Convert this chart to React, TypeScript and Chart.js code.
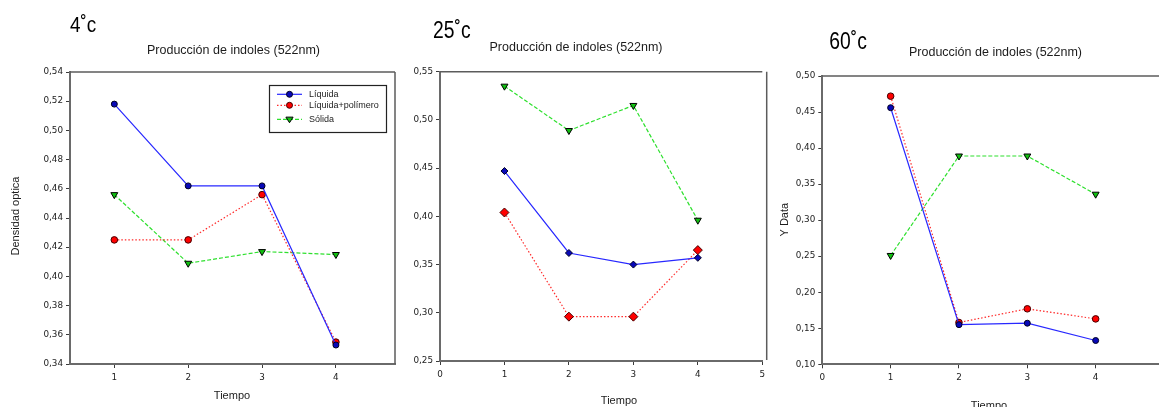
import React, { useEffect, useRef } from 'react';
import { Chart, registerables } from 'chart.js';

Chart.register(...registerables);

// ---- data ----
const tiempo = [1, 2, 3, 4];

const liquida4 = [0.518, 0.462, 0.462, 0.353];
const liquidaPol4 = [0.425, 0.425, 0.456, 0.355];
const solida4 = [0.456, 0.409, 0.417, 0.415];

const liquida25 = [0.447, 0.362, 0.35, 0.357];
const liquidaPol25 = [0.404, 0.296, 0.296, 0.365];
const solida25 = [0.535, 0.489, 0.515, 0.396];

const liquida60 = [0.456, 0.155, 0.157, 0.133];
const liquidaPol60 = [0.472, 0.158, 0.177, 0.163];
const solida60 = [0.251, 0.389, 0.389, 0.336];

const yTicks4 = [0.34, 0.36, 0.38, 0.4, 0.42, 0.44, 0.46, 0.48, 0.5, 0.52, 0.54];
const yTicks25 = [0.25, 0.3, 0.35, 0.4, 0.45, 0.5, 0.55];
const yTicks60 = [0.1, 0.15, 0.2, 0.25, 0.3, 0.35, 0.4, 0.45, 0.5];
const xTicks4 = [1, 2, 3, 4];
const xTicks25 = [0, 1, 2, 3, 4, 5];
const xTicks60 = [0, 1, 2, 3, 4, 5];

const seriesNames = ['Líquida', 'Líquida+polímero', 'Sólida'];
const panelLabels = ['4˚c', '25˚c', '60˚c'];
const chartTitle = 'Producción de indoles (522nm)';
const xTitle = 'Tiempo';
const yTitles = ['Densidad optica', '', 'Y Data'];

// ---- styles ----
const SANS = "'Liberation Sans', Arial, sans-serif";
const BLUE = '#2828ff';
const RED = '#ff2a2a';
const GREEN = '#2ee02e';

type TextItem = {
  text: string;
  x: number;
  y: number;
  size: number;
  align?: CanvasTextAlign;
  rotate?: number;
  scaleX?: number;
  color?: string;
};

function buildDatasets(liq: number[], pol: number[], sol: number[], diamond: boolean) {
  return [
    {
      label: seriesNames[0],
      data: tiempo.map((x, i) => ({ x, y: liq[i] })),
      borderColor: BLUE,
      borderWidth: 1.2,
      pointStyle: diamond ? 'rectRot' : 'circle',
      pointRadius: diamond ? 3.5 : 3,
      pointBackgroundColor: '#0808b8',
      pointBorderColor: '#000022',
      pointBorderWidth: 1,
      tension: 0,
    },
    {
      label: seriesNames[1],
      data: tiempo.map((x, i) => ({ x, y: pol[i] })),
      borderColor: RED,
      borderWidth: 1.2,
      borderDash: [1.5, 2],
      pointStyle: diamond ? 'rectRot' : 'circle',
      pointRadius: diamond ? 4.5 : 3.3,
      pointBackgroundColor: '#ff0000',
      pointBorderColor: '#440000',
      pointBorderWidth: 1,
      tension: 0,
    },
    {
      label: seriesNames[2],
      data: tiempo.map((x, i) => ({ x, y: sol[i] })),
      borderColor: GREEN,
      borderWidth: 1.2,
      borderDash: [4, 2],
      pointStyle: 'triangle',
      pointRotation: 180,
      pointRadius: 4,
      pointBackgroundColor: '#10c010',
      pointBorderColor: '#000000',
      pointBorderWidth: 1,
      tension: 0,
    },
  ];
}

type PanelSpec = {
  left: number;
  width: number;
  area: { l: number; t: number; r: number; b: number };
  xMin: number;
  xMax: number;
  xTicks: number[];
  yTicks: number[];
  frameRightOffset: number;
  datasets: any[];
  texts: TextItem[];
  legend: boolean;
};

const H = 407;

const panels: PanelSpec[] = [
  {
    left: 0,
    width: 400,
    area: { l: 70, t: 72, r: 397, b: 364 },
    xMin: 0.4,
    xMax: 4.8,
    xTicks: xTicks4,
    yTicks: yTicks4,
    frameRightOffset: 0,
    datasets: buildDatasets(liquida4, liquidaPol4, solida4, false),
    legend: true,
    texts: [
      { text: panelLabels[0], x: 70, y: 31.7, size: 22.5, scaleX: 0.84, color: '#000000' },
      { text: chartTitle, x: 233.5, y: 53.5, size: 12.5, align: 'center' },
      { text: xTitle, x: 232, y: 398.5, size: 11, align: 'center' },
      { text: yTitles[0], x: 19, y: 216, size: 11, align: 'center', rotate: -Math.PI / 2 },
    ],
  },
  {
    left: 400,
    width: 380,
    area: { l: 40, t: 71.7, r: 362.3, b: 361 },
    xMin: 0,
    xMax: 5,
    xTicks: xTicks25,
    yTicks: yTicks25,
    frameRightOffset: 4.4,
    datasets: buildDatasets(liquida25, liquidaPol25, solida25, true),
    legend: false,
    texts: [
      { text: panelLabels[1], x: 33, y: 37.7, size: 23, scaleX: 0.84, color: '#000000' },
      { text: chartTitle, x: 176, y: 51, size: 12.5, align: 'center' },
      { text: xTitle, x: 219, y: 403.5, size: 11, align: 'center' },
    ],
  },
  {
    left: 780,
    width: 400,
    area: { l: 42.3, t: 76, r: 384, b: 364.3 },
    xMin: 0,
    xMax: 5,
    xTicks: xTicks60,
    yTicks: yTicks60,
    frameRightOffset: 0,
    datasets: buildDatasets(liquida60, liquidaPol60, solida60, false),
    legend: false,
    texts: [
      { text: panelLabels[2], x: 49.3, y: 49.3, size: 23, scaleX: 0.84, color: '#000000' },
      { text: chartTitle, x: 215.5, y: 55.5, size: 12.5, align: 'center' },
      { text: xTitle, x: 209, y: 409, size: 11, align: 'center' },
      { text: yTitles[2], x: 8, y: 219.7, size: 11, align: 'center', rotate: -Math.PI / 2 },
    ],
  },
];

function makeTextPlugin(items: TextItem[]) {
  return {
    id: 'panelTexts',
    afterDraw(chart: any) {
      const ctx = chart.ctx as CanvasRenderingContext2D;
      for (const t of items) {
        ctx.save();
        ctx.font = `${t.size}px ${SANS}`;
        ctx.fillStyle = t.color || '#1c1c1c';
        ctx.textBaseline = 'alphabetic';
        ctx.textAlign = t.align || 'left';
        ctx.translate(t.x, t.y);
        if (t.rotate) ctx.rotate(t.rotate);
        if (t.scaleX) ctx.scale(t.scaleX, 1);
        ctx.fillText(t.text, 0, 0);
        ctx.restore();
      }
    },
  };
}

function makeFramePlugin(offset: number) {
  return {
    id: 'frame',
    beforeDatasetsDraw(chart: any) {
      const { ctx, chartArea } = chart;
      ctx.save();
      ctx.strokeStyle = '#5c5c5c';
      ctx.lineWidth = 1.5;
      ctx.beginPath();
      ctx.moveTo(chartArea.left, chartArea.top);
      ctx.lineTo(chartArea.right, chartArea.top);
      ctx.moveTo(chartArea.right + offset, chartArea.top);
      ctx.lineTo(chartArea.right + offset, chartArea.bottom - (offset ? 1 : 0));
      ctx.stroke();
      ctx.restore();
    },
  };
}

const legendPlugin = {
  id: 'boxLegend',
  afterDraw(chart: any) {
    const ctx = chart.ctx as CanvasRenderingContext2D;
    const bx = 269.5;
    const by = 85.5;
    const bw = 117;
    const bh = 47;
    ctx.save();
    ctx.fillStyle = '#ffffff';
    ctx.fillRect(bx, by, bw, bh);
    ctx.strokeStyle = '#222222';
    ctx.lineWidth = 1.2;
    ctx.strokeRect(bx, by, bw, bh);
    const rows = [94.3, 105.3, 119.3];
    chart.data.datasets.forEach((ds: any, i: number) => {
      const y = rows[i];
      ctx.save();
      ctx.strokeStyle = ds.borderColor;
      ctx.lineWidth = ds.borderWidth;
      ctx.setLineDash(ds.borderDash || []);
      ctx.beginPath();
      ctx.moveTo(277, y);
      ctx.lineTo(302, y);
      ctx.stroke();
      ctx.setLineDash([]);
      ctx.fillStyle = ds.pointBackgroundColor;
      ctx.strokeStyle = ds.pointBorderColor;
      ctx.lineWidth = 1;
      ctx.beginPath();
      const cx = 289.5;
      if (ds.pointStyle === 'triangle') {
        const r = 3.6;
        ctx.moveTo(cx - r, y - r * 0.6);
        ctx.lineTo(cx + r, y - r * 0.6);
        ctx.lineTo(cx, y + r * 0.95);
        ctx.closePath();
      } else {
        ctx.arc(cx, y, 3, 0, Math.PI * 2);
      }
      ctx.fill();
      ctx.stroke();
      ctx.restore();
      ctx.fillStyle = '#1c1c1c';
      ctx.font = `9px ${SANS}`;
      ctx.textBaseline = 'middle';
      ctx.textAlign = 'left';
      ctx.fillText(ds.label, 309, y);
    });
    ctx.restore();
  },
};

const fmtY = (v: number) => v.toFixed(2).replace('.', ',');

function Panel({ spec }: { spec: PanelSpec }) {
  const ref = useRef<HTMLCanvasElement | null>(null);
  useEffect(() => {
    if (!ref.current) return;
    const a = spec.area;
    const tickFont = { family: "'DejaVu Sans', Verdana, sans-serif", size: 8.8 };
    const plugins: any[] = [makeFramePlugin(spec.frameRightOffset), makeTextPlugin(spec.texts)];
    if (spec.legend) plugins.push(legendPlugin);
    const chart = new Chart(ref.current, {
      type: 'line',
      data: { datasets: spec.datasets },
      options: {
        animation: false,
        responsive: false,
        maintainAspectRatio: false,
        devicePixelRatio: 1,
        layout: { padding: { left: 0, top: a.t, right: spec.width - a.r, bottom: 0 } },
        plugins: { legend: { display: false }, tooltip: { enabled: false }, title: { display: false } },
        scales: {
          x: {
            type: 'linear',
            min: spec.xMin,
            max: spec.xMax,
            afterFit: (s: any) => {
              s.height = H - a.b;
            },
            afterBuildTicks: (s: any) => {
              s.ticks = spec.xTicks.map((v) => ({ value: v }));
            },
            grid: { display: true, drawOnChartArea: false, drawTicks: true, tickLength: 4, color: '#3a3a3a', lineWidth: 1 },
            border: { display: true, color: '#6a6a6a', width: 2 },
            ticks: {
              font: tickFont,
              color: '#222222',
              padding: 4,
              autoSkip: false,
              maxRotation: 0,
              callback: (v: any) => String(v),
            },
          },
          y: {
            type: 'linear',
            min: spec.yTicks[0],
            max: spec.yTicks[spec.yTicks.length - 1],
            afterFit: (s: any) => {
              s.width = a.l;
            },
            afterBuildTicks: (s: any) => {
              s.ticks = spec.yTicks.map((v) => ({ value: v }));
            },
            grid: { display: true, drawOnChartArea: false, drawTicks: true, tickLength: 4, color: '#3a3a3a', lineWidth: 1 },
            border: { display: true, color: '#6a6a6a', width: 2 },
            ticks: {
              font: tickFont,
              color: '#222222',
              padding: 3,
              autoSkip: false,
              callback: (v: any) => fmtY(Number(v)),
            },
          },
        },
      } as any,
      plugins,
    });
    return () => chart.destroy();
  }, [spec]);
  return (
    <canvas
      ref={ref}
      width={spec.width}
      height={H}
      style={{ position: 'absolute', left: spec.left, top: 0, width: spec.width, height: H }}
    />
  );
}

export default function App() {
  return (
    <div
      style={{
        position: 'fixed',
        left: 0,
        top: 0,
        width: 1159,
        height: H,
        overflow: 'hidden',
        background: '#ffffff',
      }}
    >
      {panels.map((p, i) => (
        <Panel key={i} spec={p} />
      ))}
    </div>
  );
}
